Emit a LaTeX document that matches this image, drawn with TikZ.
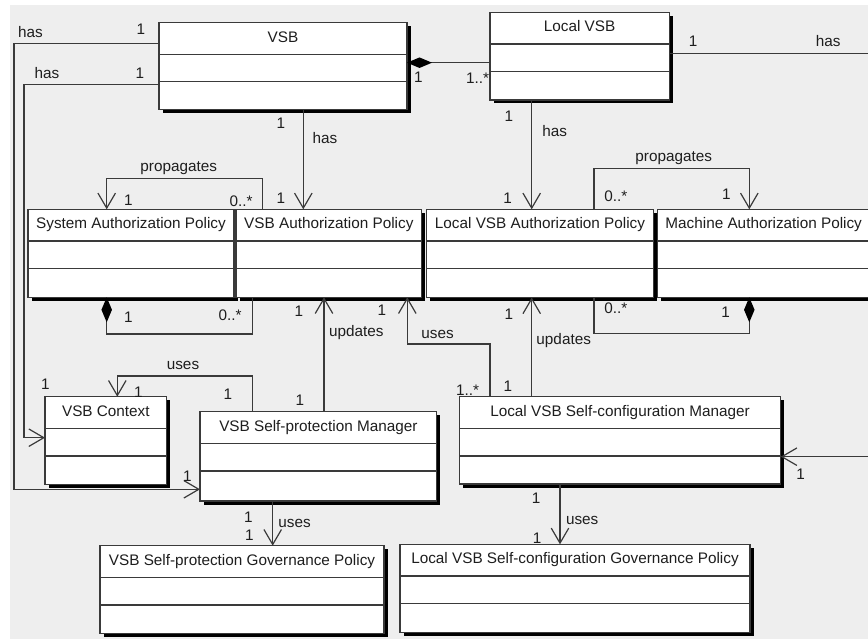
\documentclass[tikz,border=0pt]{standalone}
\usepackage{fontspec}
\setmainfont{Liberation Sans}
\usetikzlibrary{arrows.meta}

\definecolor{bgc}{HTML}{EEEEEE}
\definecolor{linec}{HTML}{3A3A3A}
\definecolor{textc}{HTML}{1E1E1E}

\tikzset{
  classbox/.style={draw=linec, fill=white, line width=1.3pt, anchor=north west,
                   inner sep=0pt, outer sep=0pt},
  boxshadow/.style={fill=black},
  divider/.style={draw=linec, line width=1.2pt},
  classtitle/.style={anchor=base, inner sep=0pt, text=textc},
  lbl/.style={anchor=base, inner sep=0pt, text=textc},
  assoc/.style={draw=linec, line width=1.2pt},
  navig/.style={-{Straight Barb[length=15pt,width=17.5pt]}},
  compos/.style={{Diamond[length=25pt,width=10.5pt,color=black,fill=black]}-},
}

% UML class box: name, x, y (top left, y downwards), width, height, title
\newcommand\umlclass[6]{%
  \fill[boxshadow] (#2+3.5,#3+3.5) rectangle (#2+#4+3.5,#3+#5+3.5);
  \node[classbox, minimum width=#4pt, minimum height=#5pt] (#1) at (#2,#3) {};
  \draw[divider] ([yshift=-31.7pt]#1.north west) -- ([yshift=-31.7pt]#1.north east);
  \draw[divider] ([yshift=-59.2pt]#1.north west) -- ([yshift=-59.2pt]#1.north east);
  \node[classtitle] (#1-t) at ([yshift=-19.4pt]#1.north) {#6};
}

\begin{document}
\begin{tikzpicture}[x=1pt, y=-1pt,
  every node/.append style={font=\fontsize{15.3}{18}\selectfont}]
\useasboundingbox (0,0) rectangle (868,639);
\clip (0,0) rectangle (868,639);
\fill[white] (0,0) rectangle (868,639);
\fill[bgc] (10,5.3) rectangle (875,645);

% ---- classes ----
\umlclass{vsb}{159}{22.7}{248}{86.5}{VSB}
\umlclass{lvsb}{490}{12.3}{179.3}{87.7}{Local VSB}
\umlclass{sap}{28}{209.3}{206}{88}{System Authorization Policy}
\umlclass{vap}{236}{209.3}{185.7}{88}{VSB Authorization Policy}
\umlclass{lap}{426.7}{209.3}{226.6}{88.2}{Local VSB Authorization Policy}
\umlclass{map}{657.7}{209.3}{212}{88}{Machine Authorization Policy}
\umlclass{ctx}{45}{396.7}{121.7}{87.6}{VSB Context}
\umlclass{spm}{200}{411.7}{236.7}{89.3}{VSB Self-protection Manager}
\umlclass{lscm}{459.3}{396.7}{321.4}{87.3}{Local VSB Self-configuration Manager}
\umlclass{spgov}{100}{545.7}{284}{87.6}{VSB Self-protection Governance Policy}
\umlclass{lscgov}{400}{544.3}{350}{88.4}{Local VSB Self-configuration Governance Policy}

% ---- associations ----
% VSB is composed of Local VSBs
\draw[assoc, compos] (vsb.east |- 0,62.7) -- (lvsb.west |- 0,62.7);
% VSB has VSB Self-protection Manager
\draw[assoc, navig] (vsb.west |- 0,43.3) -- (14,43.3) -- (14,489.3) -- (spm.west |- 0,489.3);
% VSB has VSB Context
\draw[assoc, navig] (vsb.west |- 0,84.3) -- (24,84.3) -- (24,437.7) -- (ctx.west |- 0,437.7);
% VSB has VSB Authorization Policy
\draw[assoc, navig] (vsb.south -| 303.3,0) -- (vap.north -| 303.3,0);
% VSB Authorization Policy propagates System Authorization Policy
\draw[assoc, navig] (vap.north -| 262.3,0) -- (262.3,178.3) -- (106.7,178.3) -- (sap.north -| 106.7,0);
% System Authorization Policy composed of VSB Authorization Policies
\draw[assoc, compos] (sap.south -| 106.7,0) -- (106.7,334) -- (252.3,334) -- (vap.south -| 252.3,0);
% VSB Self-protection Manager updates VSB Authorization Policy
\draw[assoc, navig] (spm.north -| 324,0) -- (vap.south -| 324,0);
% Local VSB Self-configuration Manager uses VSB Authorization Policy
\draw[assoc, navig] (lscm.north -| 490,0) -- (490,344) -- (407.3,344) -- (vap.south -| 407.3,0);
% Local VSB has Local VSB Authorization Policy
\draw[assoc, navig] (lvsb.south -| 531.7,0) -- (lap.north -| 531.7,0);
% Local VSB Authorization Policy propagates Machine Authorization Policy
\draw[assoc, navig] (lap.north -| 594,0) -- (594,168.3) -- (749.3,168.3) -- (map.north -| 749.3,0);
% Machine Authorization Policy composed of Local VSB Authorization Policies
\draw[assoc, compos] (map.south -| 749.3,0) -- (749.3,333.3) -- (594,333.3) -- (lap.south -| 594,0);
% Local VSB Self-configuration Manager updates Local VSB Authorization Policy
\draw[assoc, navig] (lscm.north -| 531.7,0) -- (lap.south -| 531.7,0);
% Local VSB has Local VSB Self-configuration Manager
\draw[assoc, navig] (lvsb.east |- 0,53.3) -- (885,53.3) -- (885,456.7) -- (lscm.east |- 0,456.7);
% VSB Self-protection Manager uses VSB Context
\draw[assoc, navig] (spm.north -| 252.3,0) -- (252.3,376) -- (117.3,376) -- (ctx.north -| 117.3,0);
% Managers use their governance policies
\draw[assoc, navig] (spm.south -| 272.7,0) -- (spgov.north -| 272.7,0);
\draw[assoc, navig] (lscm.south -| 560,0) -- (lscgov.north -| 560,0);

% ---- role names and multiplicities ----
\node[lbl] (m1)  at (30.5,37.3)  {has};
\node[lbl] (m2)  at (141,35)     {1};
\node[lbl] (m3)  at (47,79)      {has};
\node[lbl] (m4)  at (140,78.3)   {1};
\node[lbl] (m5)  at (418.5,82.3) {1};
\node[lbl] (m6)  at (477.5,83.3) {1..*};
\node[lbl] (m7)  at (281,128.3)  {1};
\node[lbl] (m8)  at (325,143.3)  {has};
\node[lbl] (m9)  at (281,204)    {1};
\node[lbl] (m10) at (178.7,171.7) {propagates};
\node[lbl] (m11) at (128.5,205.7) {1};
\node[lbl] (m12) at (241,206.7)  {0..*};
\node[lbl] (m13) at (693,46.7)   {1};
\node[lbl] (m14) at (828.3,46.7) {has};
\node[lbl] (m15) at (508.8,121.7) {1};
\node[lbl] (m16) at (554.7,136.7) {has};
\node[lbl] (m17) at (673.7,162)  {propagates};
\node[lbl] (m18) at (507.5,203.3) {1};
\node[lbl] (m19) at (615.8,201.7) {0..*};
\node[lbl] (m20) at (726.3,199.3) {1};
\node[lbl] (m21) at (615.8,313.3) {0..*};
\node[lbl] (m22) at (725.5,317.3) {1};
\node[lbl] (m23) at (508.8,319.3) {1};
\node[lbl] (m24) at (563.7,344)  {updates};
\node[lbl] (m25) at (437.5,338)  {uses};
\node[lbl] (m26) at (128.5,322.7) {1};
\node[lbl] (m27) at (230,320)    {0..*};
\node[lbl] (m28) at (299,316.7)  {1};
\node[lbl] (m29) at (356.3,336.7) {updates};
\node[lbl] (m30) at (382,315.7)  {1};
\node[lbl] (m31) at (467.5,395)  {1..*};
\node[lbl] (m32) at (507.8,391.7) {1};
\node[lbl] (m33) at (800.5,479.3) {1};
\node[lbl] (m34) at (536,503.3)  {1};
\node[lbl] (m35) at (582.2,524)  {uses};
\node[lbl] (m36) at (537,543.3)  {1};
\node[lbl] (m37) at (183,369.3)  {uses};
\node[lbl] (m38) at (138.3,397.3) {1};
\node[lbl] (m39) at (227.8,399.3) {1};
\node[lbl] (m40) at (300,405.7)  {1};
\node[lbl] (m41) at (45.5,389)   {1};
\node[lbl] (m42) at (187.5,481.7) {1};
\node[lbl] (m43) at (248.3,522.7) {1};
\node[lbl] (m44) at (249.5,540)  {1};
\node[lbl] (m45) at (294.5,527.3) {uses};
\end{tikzpicture}
\end{document}
